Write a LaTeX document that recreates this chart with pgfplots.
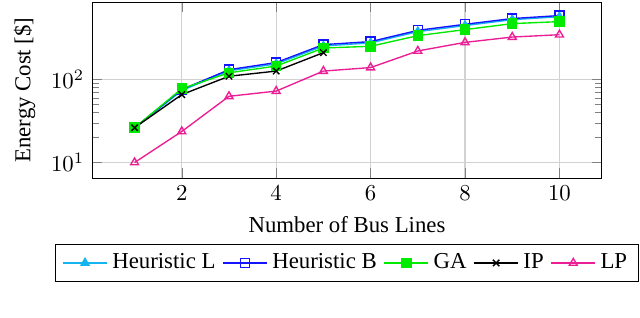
\documentclass[border=0pt]{standalone}
\usepackage{fontspec}
\setmainfont{Liberation Serif}
\usepackage{pgfplots}
\pgfplotsset{compat=1.18}
\usetikzlibrary{calc}
\definecolor{hcyan}{RGB}{20,180,240}
\definecolor{hblue}{RGB}{20,20,255}
\definecolor{hgreen}{RGB}{0,235,0}
\definecolor{hpink}{RGB}{235,30,150}
\begin{document}
\begin{tikzpicture}
\begin{axis}[
  name=ax,
  scale only axis,
  width=223.7pt, height=77.2pt,
  ymode=log,
  xmin=0.1, xmax=10.9,
  ymin=6.5, ymax=865,
  xtick={2,4,6,8,10},
  ytick={10,100},
  grid=major,
  major grid style={gray!35, line width=0.5pt},
  xlabel={Number of Bus Lines},
  ylabel={Energy Cost [\$]},
  legend columns=-1,
  legend style={at={(0.5,0)}, anchor=north, yshift=-29pt, font=\normalsize,
    /tikz/every even column/.append style={column sep=1pt}},
  legend image code/.code={\draw[mark repeat=2,mark phase=2] plot coordinates {(0cm,0cm) (0.34cm,0cm) (0.68cm,0cm)};},
  every axis plot/.append style={line width=0.6pt},
]
\addplot[color=hcyan, mark=triangle*, mark options={fill=hcyan}] coordinates {
(1,26) (2,74) (3,128) (4,155) (5,255) (6,278) (7,380) (8,450) (9,530) (10,575)};
\addlegendentry{Heuristic L}
\addplot[color=hblue, mark=square, mark options={solid}] coordinates {
(1,26.3) (2,76) (3,132) (4,161) (5,265) (6,288) (7,394) (8,466) (9,547) (10,594)};
\addlegendentry{Heuristic B}
\addplot[color=hgreen, mark=square*, mark options={fill=hgreen}] coordinates {
(1,26.3) (2,77.8) (3,121) (4,146) (5,241) (6,253) (7,340) (8,402) (9,475) (10,502)};
\addlegendentry{GA}
\addplot[color=black, mark=x] coordinates {
(1,26.3) (2,66) (3,110) (4,127) (5,212)};
\addlegendentry{IP}
\addplot[color=hpink, mark=triangle, mark options={solid}] coordinates {
(1,10) (2,23.7) (3,63) (4,72.8) (5,127) (6,140) (7,222) (8,282) (9,327) (10,349)};
\addlegendentry{LP}
\end{axis}
\path ($(ax.south west)+(-40.4pt,-61pt)$) rectangle ($(ax.north east)+(16.7pt,0.9pt)$);
\end{tikzpicture}
\end{document}
